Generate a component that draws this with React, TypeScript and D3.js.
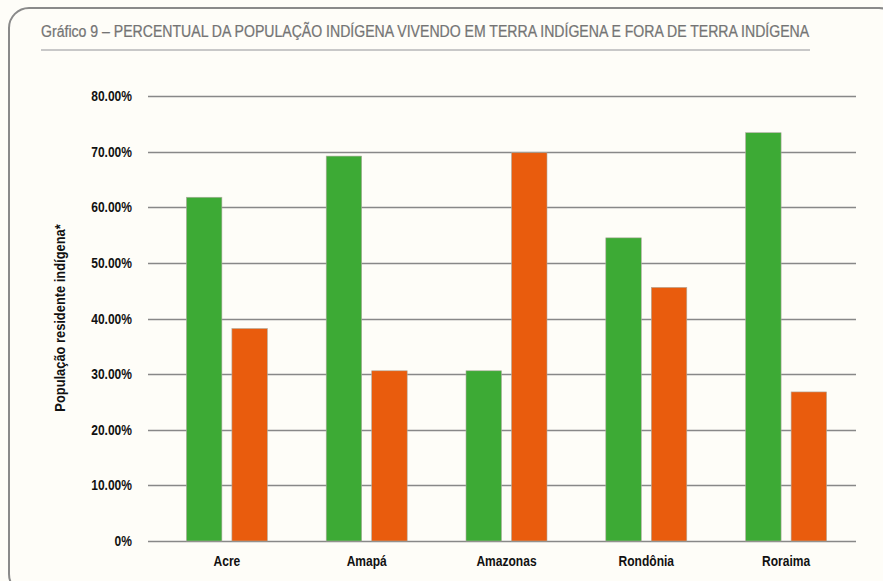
import React, { useRef, useEffect } from "react";
import * as d3 from "d3";

const categories = ["Acre", "Amapá", "Amazonas", "Rondônia", "Roraima"];
// green: vivendo em terra indígena, orange: fora de terra indígena
const emTerra = [61.8, 69.2, 30.6, 54.5, 73.4];
const foraTerra = [38.2, 30.6, 69.8, 45.6, 26.8];
const yTicks = [0, 10, 20, 30, 40, 50, 60, 70, 80];
const tickLabels = ["0%", "10.00%", "20.00%", "30.00%", "40.00%", "50.00%", "60.00%", "70.00%", "80.00%"];

const W = 883;
const H = 581;
const FONT = "'Liberation Sans', Arial, sans-serif";
const SQUEEZE = 0.86; // reference font is a condensed face

function App() {
  const svgRef = useRef<SVGSVGElement>(null);

  useEffect(() => {
    const svg = d3.select(svgRef.current);
    svg.selectAll("*").remove();

    // panel
    svg.append("rect").attr("width", W).attr("height", H).attr("fill", "#fefdf8");
    svg
      .append("rect")
      .attr("x", 9)
      .attr("y", 8)
      .attr("width", 890)
      .attr("height", 586)
      .attr("rx", 20)
      .attr("fill", "#fefdf8")
      .attr("stroke", "#8a8a8a")
      .attr("stroke-width", 2);

    // title, squeezed to the reference width
    const title = svg
      .append("text")
      .attr("font-family", FONT)
      .attr("font-size", 16.5)
      .attr("fill", "#747474")
      .attr("stroke", "#747474")
      .attr("stroke-width", 0.25)
      .text("Gráfico 9 – PERCENTUAL DA POPULAÇÃO INDÍGENA VIVENDO EM TERRA INDÍGENA E FORA DE TERRA INDÍGENA");
    const natural = (title.node() as SVGTextElement).getComputedTextLength() || 850;
    title.attr("transform", `translate(41,37) scale(${769 / natural},1)`);

    svg
      .append("line")
      .attr("x1", 41)
      .attr("x2", 810)
      .attr("y1", 50)
      .attr("y2", 50)
      .attr("stroke", "#c8c8c8")
      .attr("stroke-width", 2);

    const y = d3.scaleLinear().domain([0, 80]).range([541, 96]);
    const x = d3.scaleBand().domain(categories).range([157, 856]);
    const inner = d3.scaleBand().domain(["em", "fora"]).range([0, 81]).paddingInner(0.22);
    const groupOffset = (x.bandwidth() - 81) / 2;

    // grid
    svg
      .append("g")
      .selectAll("line")
      .data(yTicks)
      .join("line")
      .attr("x1", 148)
      .attr("x2", 856)
      .attr("y1", (d) => Math.round(y(d)) + 0.5)
      .attr("y2", (d) => Math.round(y(d)) + 0.5)
      .attr("stroke", "#888")
      .attr("stroke-width", 1.3);

    // tick labels
    svg
      .append("g")
      .selectAll("text")
      .data(yTicks)
      .join("text")
      .attr("transform", (d) => `translate(132,${y(d) + 5}) scale(${SQUEEZE},1)`)
      .attr("text-anchor", "end")
      .attr("font-family", FONT)
      .attr("font-weight", "bold")
      .attr("font-size", 14)
      .attr("fill", "#111")
      .text((d, i) => tickLabels[i]);

    // axis title
    svg
      .append("text")
      .attr("transform", `translate(65,318) rotate(-90) scale(0.92,1)`)
      .attr("text-anchor", "middle")
      .attr("font-family", FONT)
      .attr("font-weight", "bold")
      .attr("font-size", 14)
      .attr("fill", "#111")
      .text("População residente indígena*");

    // bars
    const series = [
      { key: "em", values: emTerra, color: "#3daa35" },
      { key: "fora", values: foraTerra, color: "#e95c0d" },
    ];
    series.forEach((s) => {
      svg
        .append("g")
        .selectAll("rect")
        .data(categories)
        .join("rect")
        .attr("x", (c) => (x(c) as number) + groupOffset + (inner(s.key) as number))
        .attr("y", (c, i) => y(s.values[i]))
        .attr("width", inner.bandwidth())
        .attr("height", (c, i) => y(0) - y(s.values[i]))
        .attr("fill", s.color)
        .attr("stroke", "#b0aca0")
        .attr("stroke-width", 0.6);
    });

    // category labels
    svg
      .append("g")
      .selectAll("text")
      .data(categories)
      .join("text")
      .attr("transform", (c) => `translate(${(x(c) as number) + x.bandwidth() / 2},566) scale(${SQUEEZE},1)`)
      .attr("text-anchor", "middle")
      .attr("font-family", FONT)
      .attr("font-weight", "bold")
      .attr("font-size", 14)
      .attr("fill", "#111")
      .text((c) => c);
  }, []);

  return (
    <svg
      ref={svgRef}
      width={W}
      height={H}
      style={{ position: "absolute", left: 0, top: 0, display: "block" }}
    ></svg>
  );
}

export default App;
